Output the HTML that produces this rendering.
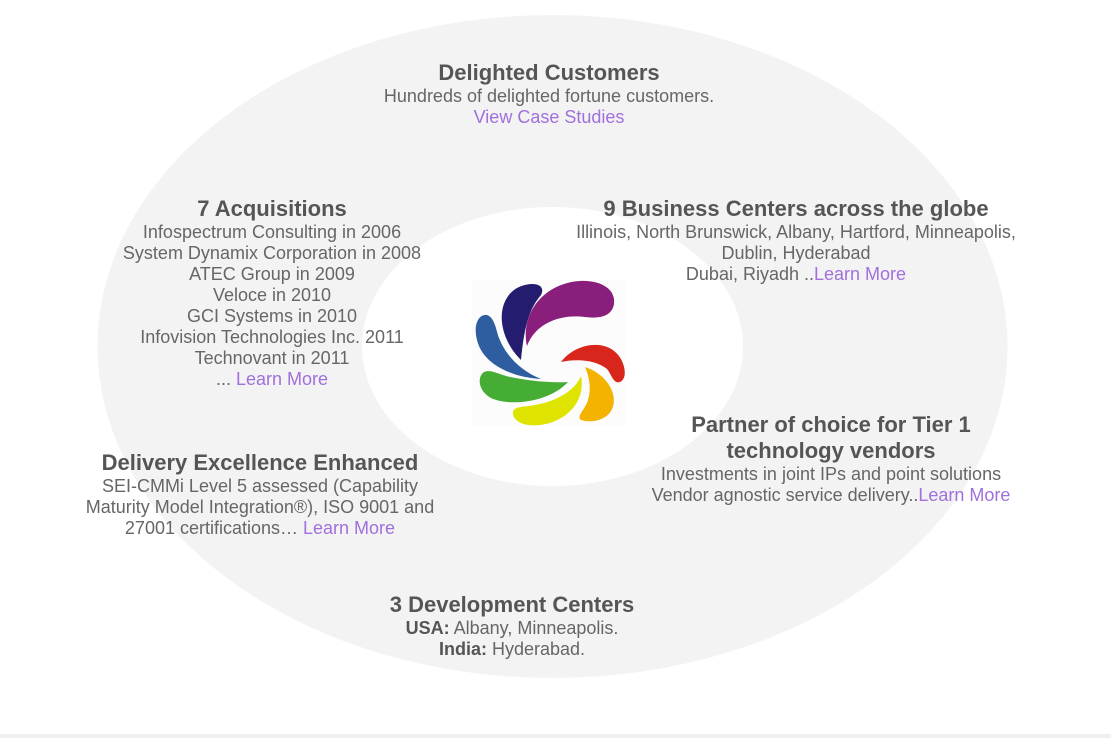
<!DOCTYPE html>
<html>
<head>
<meta charset="utf-8">
<style>
  html,body{margin:0;padding:0;background:#fff;}
  body{width:1111px;height:738px;position:relative;overflow:hidden;font-family:"Liberation Sans",Arial,sans-serif;}
  .blk{position:absolute;text-align:center;white-space:nowrap;color:#666;font-size:18px;line-height:21px;}
  .blk h3{margin:0;font-size:22px;line-height:26px;font-weight:bold;color:#555;}
  .blk a{color:#a070dc;text-decoration:none;}
  .blk b{color:#555;}
  .bar{position:absolute;left:0;top:734px;width:1111px;height:4px;background:#f0f0f0;}
</style>
</head>
<body>
<svg width="1111" height="738" style="position:absolute;left:0;top:0">
  <ellipse cx="552.5" cy="346.5" rx="455" ry="331.5" fill="#f3f3f3"/>
  <ellipse cx="552.5" cy="346.5" rx="190.5" ry="139.5" fill="#ffffff"/>
  <rect x="472" y="280" width="153" height="146" fill="#fcfcfc"/>
  <!-- logo petals -->
  <path d="M 521 360 C 496 335, 496 300, 517 288 C 530 281, 547 283, 541 295 C 528 310, 524 330, 521 360 Z" fill="#241c6f"/>
  <path d="M 527 346 C 520 312, 545 283, 580 281 C 602 280, 616 290, 614 304 C 612 316, 600 319, 585 317 C 562 314, 536 322, 527 346 Z" fill="#8a1e7c"/>
  <path d="M 541 379 C 508 377, 482 362, 477 340 C 473 324, 479 314, 487 315 C 495 318, 496 330, 499 338 C 506 356, 521 371, 541 379 Z" fill="#2e5ea0"/>
  <path d="M 568 382 C 550 402, 510 407, 491 398 C 478 391, 477 377, 484 372 C 491 369, 500 375, 510 377 C 530 381, 550 383, 568 382 Z" fill="#46ad34"/>
  <path d="M 581 376 C 586 402, 566 422, 540 425 C 524 427, 512 421, 513 412 C 514 406, 525 407, 535 405 C 558 401, 575 390, 581 376 Z" fill="#dfe300"/>
  <path d="M 585 367 C 607 374, 620 396, 611 411 C 605 421, 590 423, 581 420 C 576 416, 585 410, 588 400 C 591 390, 590 378, 585 367 Z" fill="#f3b300"/>
  <path d="M 561 362 C 575 343, 606 338, 619 356 C 626 366, 627 379, 620 382 C 613 384, 612 375, 607 369 C 597 361, 580 358, 561 362 Z" fill="#d9261c"/>
</svg>

<div class="blk" style="left:349px;width:400px;top:60px;">
  <h3>Delighted Customers</h3>
  Hundreds of delighted fortune customers.<br>
  <a>View Case Studies</a>
</div>

<div class="blk" style="left:72px;width:400px;top:196px;">
  <h3>7 Acquisitions</h3>
  Infospectrum Consulting in 2006<br>
  System Dynamix Corporation in 2008<br>
  ATEC Group in 2009<br>
  Veloce in 2010<br>
  GCI Systems in 2010<br>
  Infovision Technologies Inc. 2011<br>
  Technovant in 2011<br>
  ... <a>Learn More</a>
</div>

<div class="blk" style="left:546px;width:500px;top:196px;">
  <h3>9 Business Centers across the globe</h3>
  Illinois, North Brunswick, Albany, Hartford, Minneapolis,<br>
  Dublin, Hyderabad<br>
  Dubai, Riyadh ..<a>Learn More</a>
</div>

<div class="blk" style="left:631px;width:400px;top:412px;">
  <h3>Partner of choice for Tier 1<br>technology vendors</h3>
  Investments in joint IPs and point solutions<br>
  Vendor agnostic service delivery..<a>Learn More</a>
</div>

<div class="blk" style="left:60px;width:400px;top:450px;">
  <h3>Delivery Excellence Enhanced</h3>
  SEI-CMMi Level 5 assessed (Capability<br>
  Maturity Model Integration®), ISO 9001 and<br>
  27001 certifications… <a>Learn More</a>
</div>

<div class="blk" style="left:312px;width:400px;top:592px;">
  <h3>3 Development Centers</h3>
  <b>USA:</b> Albany, Minneapolis.<br>
  <b>India:</b> Hyderabad.
</div>

<div class="bar"></div>
</body>
</html>
